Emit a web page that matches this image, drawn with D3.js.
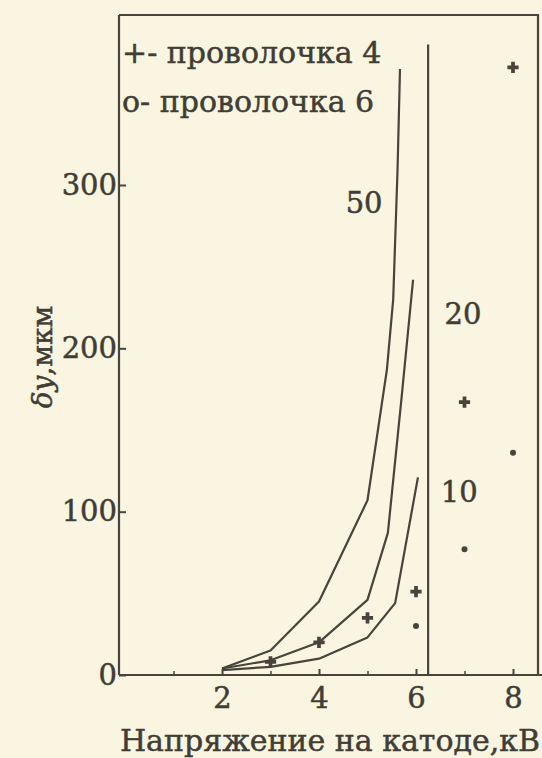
<!DOCTYPE html>
<html><head><meta charset="utf-8">
<script src="https://cdn.jsdelivr.net/npm/d3@7"></script>
<style>
html,body{margin:0;padding:0;background:#faf5e0;}
svg{display:block;}
text{font-family:"DejaVu Serif","Liberation Serif",serif;fill:#403d35;stroke:#403d35;stroke-width:0.5px;}
</style></head>
<body>
<svg id="c" width="542" height="758"></svg>
<script>
// ---- data ----
const xTickLabels = [2, 4, 6, 8];
const xMinorTicks = [1, 3, 5, 7];
const yTickLabels = [0, 100, 200, 300];
const curveNames = ["50", "20", "10"];
const curve50X = [2, 3, 4, 5, 5.4, 5.53, 5.62, 5.67];
const curve50Y = [4, 15, 45, 107, 187, 230, 310, 371];
const curve20X = [2, 3, 4, 5, 5.42, 5.7, 5.94];
const curve20Y = [4, 9, 20, 46, 87, 169, 242];
const curve10X = [2, 3, 4, 5, 5.57, 6.04];
const curve10Y = [3, 5, 10, 23, 44, 121];
const wire4X = [3, 4, 5, 6, 7, 8];          // "+" markers
const wire4Y = [8, 20, 35, 51, 167, 372];
const wire6X = [6, 7, 8];                   // "o" markers
const wire6Y = [30, 77, 136];
const labelPos = [[4.93, 283], [6.97, 215], [6.89, 106]]; // curve label anchors (data units)
const separatorX = 6.25, separatorTop = 386;
const legendItems = ["+- проволочка 4", "o- проволочка 6"];
const xTitle = "Напряжение на катоде,кВ";
const yTitleItalic = "δy", yTitleRest = ",мкм";

// ---- drawing ----
const svg = d3.select("#c");
const ink = "#47443b";
const x = d3.scaleLinear().domain([0, 8]).range([125, 513]);
const y = d3.scaleLinear().domain([0, 300]).range([675, 185]);
const xAxisLeft = 119, frameTop = 15, frameRight = 538;
const fs = 29;

// frame top & right
svg.append("path").attr("d", `M${xAxisLeft},${frameTop}H${frameRight}V${y(0)}`)
  .attr("fill", "none").attr("stroke", ink).attr("stroke-width", 2.2);

// y axis
const gy = svg.append("g").attr("transform", `translate(${xAxisLeft},0)`)
  .call(d3.axisLeft(y).tickValues(yTickLabels).tickSizeInner(-7).tickSizeOuter(0).tickPadding(6));
gy.select(".domain").attr("d", `M0,${frameTop}V${y(0)}`).attr("stroke", ink).attr("stroke-width", 2.2);
gy.selectAll(".tick line").attr("stroke", ink).attr("stroke-width", 2);
gy.selectAll(".tick text").attr("font-size", fs).attr("font-family", "DejaVu Serif").attr("fill", "#403d35").attr("dx", 4);

// x axis
const gx = svg.append("g").attr("transform", `translate(0,${y(0)})`)
  .call(d3.axisBottom(x).tickValues(xTickLabels).tickSizeInner(-6).tickSizeOuter(0).tickPadding(12));
gx.select(".domain").attr("d", `M${xAxisLeft},0H542`).attr("stroke", ink).attr("stroke-width", 2.2);
gx.selectAll(".tick line").attr("stroke", ink).attr("stroke-width", 2);
gx.selectAll(".tick text").attr("font-size", fs).attr("font-family", "DejaVu Serif").attr("fill", "#403d35");
const gm = svg.append("g").attr("transform", `translate(0,${y(0)})`)
  .call(d3.axisBottom(x).tickValues(xMinorTicks).tickSizeInner(-4).tickSizeOuter(0).tickFormat(""));
gm.select(".domain").remove();
gm.selectAll(".tick line").attr("stroke", ink).attr("stroke-width", 1.5);

// separator vertical line
svg.append("line").attr("x1", x(separatorX)).attr("x2", x(separatorX))
  .attr("y1", y(separatorTop)).attr("y2", y(0)).attr("stroke", ink).attr("stroke-width", 2.2);

// curves
const line = d3.line().x(d => x(d[0])).y(d => y(d[1]));
[[curve50X, curve50Y], [curve20X, curve20Y], [curve10X, curve10Y]].forEach(([xs, ys]) => {
  svg.append("path").datum(xs.map((v, i) => [v, ys[i]])).attr("d", line)
    .attr("fill", "none").attr("stroke", ink).attr("stroke-width", 2.2).attr("stroke-linejoin", "round");
});

// curve labels
curveNames.forEach((n, i) => {
  svg.append("text").attr("x", x(labelPos[i][0])).attr("y", y(labelPos[i][1]))
    .attr("text-anchor", "middle").attr("font-size", fs).text(n);
});

// "+" markers
svg.append("g").selectAll("path").data(wire4X.map((v, i) => [v, wire4Y[i]])).join("path")
  .attr("d", d3.symbol(d3.symbolCross, 70))
  .attr("transform", d => `translate(${x(d[0])},${y(d[1])})`).attr("fill", ink);

// "o" markers
svg.append("g").selectAll("circle").data(wire6X.map((v, i) => [v, wire6Y[i]])).join("circle")
  .attr("cx", d => x(d[0])).attr("cy", d => y(d[1])).attr("r", 3).attr("fill", ink);

// legend
legendItems.forEach((t, i) => {
  svg.append("text").attr("x", 122).attr("y", 63 + i * 49).attr("font-size", 30).text(t);
});

// titles
svg.append("text").attr("x", 330).attr("y", 751).attr("text-anchor", "middle")
  .attr("font-size", 30).text(xTitle);
const yt = svg.append("text").attr("transform", "translate(52,357) rotate(-90)").attr("text-anchor", "middle")
  .attr("font-size", 28);
yt.append("tspan").attr("font-style", "italic").text(yTitleItalic);
yt.append("tspan").text(yTitleRest);
</script>
</body></html>
